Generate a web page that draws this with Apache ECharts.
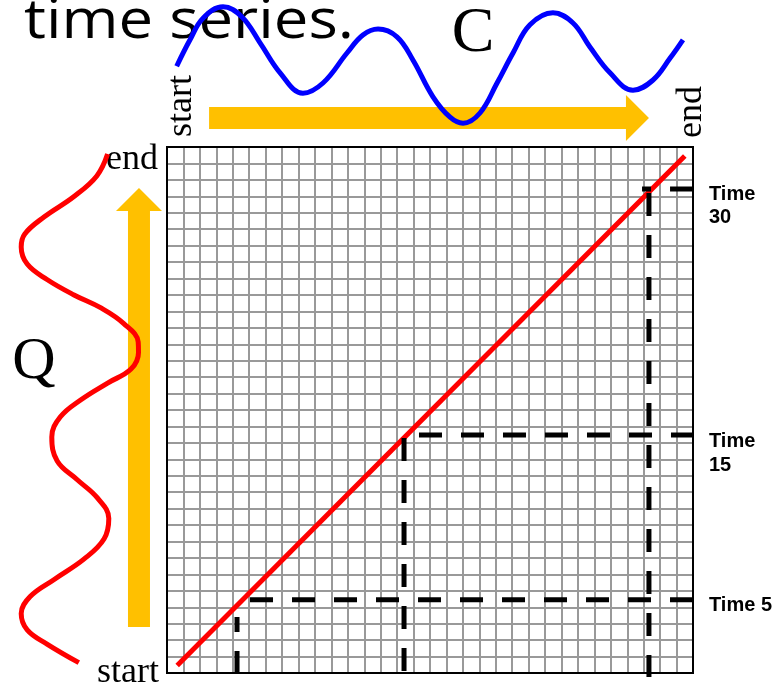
<!DOCTYPE html>
<html>
<head>
<meta charset="utf-8">
<script src="https://cdn.jsdelivr.net/npm/echarts@6/dist/echarts.min.js"></script>
<style>
html,body{margin:0;padding:0;background:#fff;}
#chart{width:778px;height:685px;}
</style>
</head>
<body>
<div id="chart"></div>
<script>
// ---------- data ----------
const nCells = 32;                       // cells of the warping matrix per side
const titleText = 'time series.';
const nameC = 'C';
const nameQ = 'Q';
const startLabel = 'start';
const endLabel = 'end';
const timeLabels = [['Time', '30'], ['Time', '15'], ['Time 5']];

// candidate series C (top): time index (matrix column) and amplitude
const cTime  = [0.59,1.40,2.19,3.41,4.56,5.66,6.88,8.27,9.49,10.95,11.92,12.84,13.99,14.97,16.18,17.22,18.01,19.04,20.08,21.05,22.08,23.48,24.70,25.73,26.95,28.35,29.57,30.62,31.39];
const cValue = [-0.02,0.42,0.78,0.97,0.80,0.37,-0.13,-0.47,-0.30,0.20,0.50,0.60,0.47,0.08,-0.53,-0.87,-0.97,-0.80,-0.30,0.20,0.67,0.87,0.70,0.30,-0.13,-0.42,-0.25,0.12,0.42];

// query series Q (left): time index (matrix row) and amplitude
const qTime  = [31.57,30.24,28.99,27.74,26.71,25.92,24.88,23.94,23.00,22.21,21.26,20.14,19.50,18.49,17.64,16.61,15.57,14.36,12.90,11.77,10.65,9.40,8.15,6.94,5.69,4.65,3.62,2.62,1.76,0.63];
const qValue = [0.46,0.28,-0.10,-0.60,-0.92,-0.98,-0.88,-0.55,-0.10,0.35,0.73,0.97,0.975,0.85,0.46,0.01,-0.33,-0.47,-0.38,-0.05,0.29,0.48,0.40,0.07,-0.43,-0.83,-0.98,-0.88,-0.55,-0.02];

// warping path (matrix units)
const pathX = [0.62, 31.5];
const pathY = [0.45, 31.45];

// dashed guide lines (matrix units): [x1, y1, x2, y2]
const guide5H  = [5.05, 4.45, 32.12, 4.45];
const guide5V  = [4.26, 3.40, 4.26, -0.20];
const guide15H = [15.33, 14.48, 32.10, 14.48];
const guide15V = [14.42, 14.30, 14.42, -0.25];
const guide30H = [28.90, 29.45, 32.30, 29.45];
const guide30V = [29.32, 29.20, 29.32, -0.25];

// direction arrows: [x1, y1, x2, y2] in the C / Q panels' own units
const arrowC = [2.56, -0.883, 29.32, -0.883];
const arrowQ = [0.983, 2.80, 0.983, 29.50];

// ---------- chart ----------
const chart = echarts.init(document.getElementById('chart'), null, {renderer: 'canvas'});

function hiddenAxis(extra) {
  return Object.assign({type: 'value', show: false}, extra);
}
function zip(a, b) { return a.map((v, i) => [v, b[i]]); }

function guideSeries(g, dashOffset) {
  return {
    type: 'line', xAxisIndex: 0, yAxisIndex: 0,
    data: [[g[0], g[1]], [g[2], g[3]]],
    showSymbol: false, symbol: 'none', clip: false, silent: true, z: 4,
    lineStyle: {color: '#000', width: 5, type: [23, 19], dashOffset: dashOffset || 0, cap: 'butt'}
  };
}

function arrowRender(params, api) {
  const s = api.coord([api.value(0), api.value(1)]);
  const e = api.coord([api.value(2), api.value(3)]);
  const dx = e[0] - s[0], dy = e[1] - s[1];
  const L = Math.hypot(dx, dy);
  const ux = dx / L, uy = dy / L, nx = -uy, ny = ux;
  const hw = 11, hh = 23, hl = 23;
  const hx = e[0] - ux * hl, hy = e[1] - uy * hl;
  const pts = [
    [s[0] + nx * hw, s[1] + ny * hw],
    [hx + nx * hw, hy + ny * hw],
    [hx + nx * hh, hy + ny * hh],
    [e[0], e[1]],
    [hx - nx * hh, hy - ny * hh],
    [hx - nx * hw, hy - ny * hw],
    [s[0] - nx * hw, s[1] - ny * hw]
  ];
  return {type: 'polygon', shape: {points: pts}, style: {fill: '#FFC000'}};
}

function measure(text, font) {
  const c = document.createElement('canvas').getContext('2d');
  c.font = font;
  return c.measureText(text).width;
}
const titleFont = '55px "Open Sans"';
const titleScale = 330 / measure(titleText, titleFont);

const serif = '"Liberation Serif", "Times New Roman", serif';
const boldSans = 'bold 20px "Liberation Sans", Arial, sans-serif';

function txt(text, x, y, font, extra) {
  return Object.assign({
    type: 'text', x: x, y: y, z: 1,
    style: {text: text, font: font, fill: '#000', align: 'left', verticalAlign: 'middle',
            textAlign: 'left', textVerticalAlign: 'middle'}
  }, extra || {});
}
function ctxt(text, x, y, font, extra) {
  const t = txt(text, x, y, font, extra);
  t.style.align = 'center'; t.style.textAlign = 'center';
  return t;
}

const option = {
  animation: false,
  backgroundColor: '#fff',
  grid: [
    {left: 167, top: 147, width: 526, height: 526, show: true, z: 1,
     borderColor: '#000', borderWidth: 2, backgroundColor: 'transparent'},
    {left: 167, top: 5, width: 526, height: 120},
    {left: 20, top: 147, width: 120, height: 526}
  ],
  xAxis: [
    {gridIndex: 0, type: 'value', min: 0, max: nCells, interval: 1,
     axisLine: {show: false}, axisTick: {show: false}, axisLabel: {show: false},
     splitLine: {show: true, lineStyle: {color: '#999999', width: 2}}},
    hiddenAxis({gridIndex: 1, min: 0, max: nCells}),
    hiddenAxis({gridIndex: 2, min: -1, max: 1})
  ],
  yAxis: [
    {gridIndex: 0, type: 'value', min: 0, max: nCells, interval: 1,
     axisLine: {show: false}, axisTick: {show: false}, axisLabel: {show: false},
     splitLine: {show: true, lineStyle: {color: '#999999', width: 2}}},
    hiddenAxis({gridIndex: 1, min: -1, max: 1}),
    hiddenAxis({gridIndex: 2, min: 0, max: nCells})
  ],
  series: [
    {type: 'custom', name: 'arrowC', xAxisIndex: 1, yAxisIndex: 1, coordinateSystem: 'cartesian2d',
     data: [arrowC], renderItem: arrowRender, clip: false, silent: true, z: 2},
    {type: 'custom', name: 'arrowQ', xAxisIndex: 2, yAxisIndex: 2, coordinateSystem: 'cartesian2d',
     data: [arrowQ], renderItem: arrowRender, clip: false, silent: true, z: 2},
    {type: 'line', name: nameC, xAxisIndex: 1, yAxisIndex: 1, data: zip(cTime, cValue),
     smooth: 0.4, showSymbol: false, symbol: 'none', clip: false, silent: true, z: 3,
     lineStyle: {color: '#0000FF', width: 5}},
    {type: 'line', name: nameQ, xAxisIndex: 2, yAxisIndex: 2, data: zip(qValue, qTime),
     smooth: 0.4, showSymbol: false, symbol: 'none', clip: false, silent: true, z: 3,
     lineStyle: {color: '#FF0000', width: 5}},
    {type: 'line', name: 'path', xAxisIndex: 0, yAxisIndex: 0, data: zip(pathX, pathY),
     showSymbol: false, symbol: 'none', clip: false, silent: true, z: 3,
     lineStyle: {color: '#FF0000', width: 5, cap: 'butt'}},
    guideSeries(guide5H, 0),
    guideSeries(guide5V, 8),
    guideSeries(guide15H, 0),
    guideSeries(guide15V, 0),
    guideSeries(guide30H, 14),
    guideSeries(guide30V, 0)
  ],
  graphic: [
    txt(titleText, 24, 22, titleFont, {scaleX: titleScale}),
    ctxt(nameC, 473, 34, '64px ' + serif),
    ctxt(nameQ, 34, 362, '60px ' + serif),
    ctxt(startLabel, 182, 106, '36px ' + serif, {rotation: Math.PI / 2}),
    ctxt(endLabel, 692, 112, '36px ' + serif, {rotation: Math.PI / 2}),
    txt(endLabel, 106, 160, '36px ' + serif),
    txt(startLabel, 97, 673, '36px ' + serif),
    txt(timeLabels[0][0], 709, 194, boldSans),
    txt(timeLabels[0][1], 709, 217, boldSans),
    txt(timeLabels[1][0], 709, 441, boldSans),
    txt(timeLabels[1][1], 709, 465, boldSans),
    txt(timeLabels[2][0], 709, 605, boldSans)
  ]
};
chart.setOption(option);
</script>
</body>
</html>
